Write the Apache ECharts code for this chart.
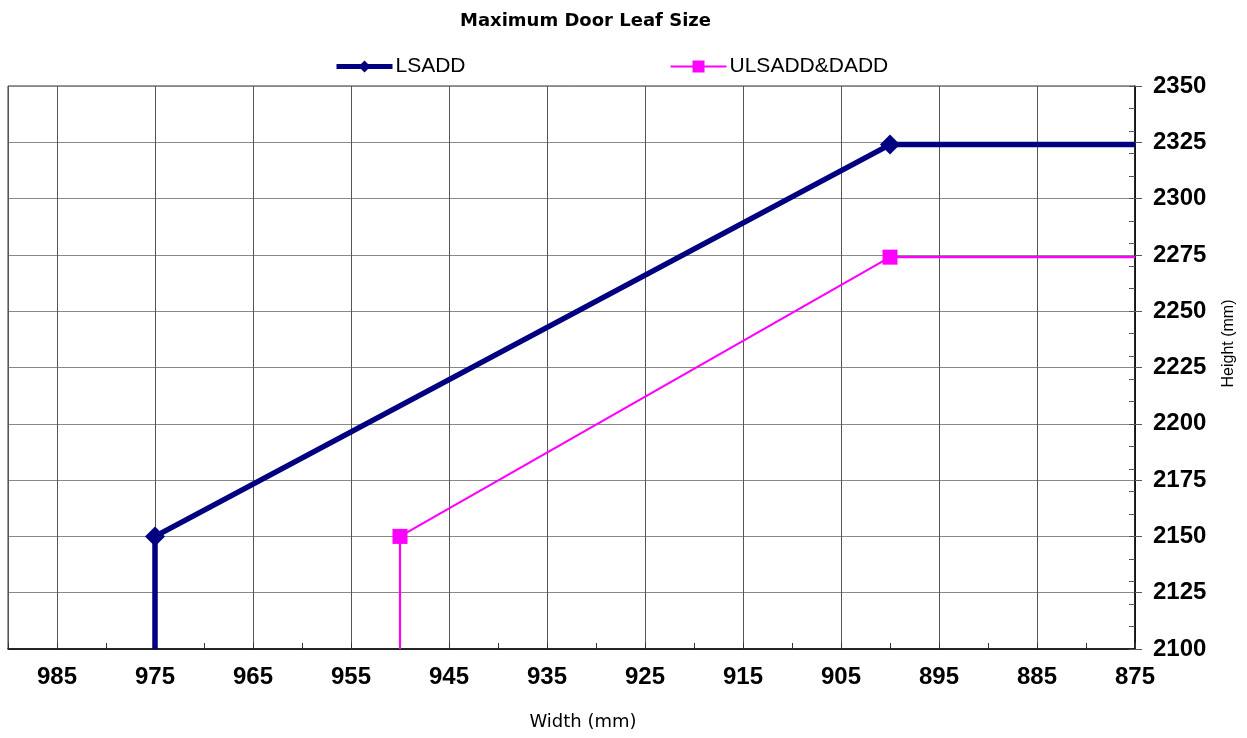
<!DOCTYPE html>
<html>
<head>
<meta charset="utf-8">
<script src="https://cdn.jsdelivr.net/npm/echarts@6/dist/echarts.min.js"></script>
<style>html,body{margin:0;padding:0;background:#fff}#c{width:1247px;height:738px}</style>
</head>
<body>
<div id="c"></div>
<script>
// ---- data ----
const titleText = 'Maximum Door Leaf Size';
const seriesNames = ['LSADD', 'ULSADD&DADD'];
const lsaddX = [975, 975, 900, 875];
const lsaddY = [2100, 2150, 2324, 2324];
const lsaddMarker = [false, true, true, false];
const ulsaddX = [950, 950, 900, 875];
const ulsaddY = [2100, 2150, 2274, 2274];
const ulsaddMarker = [false, true, true, false];
const xMajorTicks = [990, 985, 975, 965, 955, 945, 935, 925, 915, 905, 895, 885, 875];
const xLabelValues = [985, 975, 965, 955, 945, 935, 925, 915, 905, 895, 885, 875];
const xMinorTicks = [980, 970, 960, 950, 940, 930, 920, 910, 900, 890, 880];
const xName = 'Width (mm)';
const yName = 'Height (mm)';

function build(xs, ys, marks) {
  return xs.map((x, i) => ({ value: [x, ys[i]], symbol: marks[i] ? undefined : 'none' }));
}

const chart = echarts.init(document.getElementById('c'));
const xRange = { min: 875, max: 990, inverse: true };
const yRange = { min: 2100, max: 2350 };
const tickFont = { fontFamily: 'Liberation Sans', fontWeight: 'bold', fontSize: 24, color: '#000' };
chart.setOption({
  animation: false,
  backgroundColor: '#ffffff',
  title: {
    text: titleText, left: 455, top: 7,
    textStyle: { fontFamily: 'DejaVu Sans', fontWeight: 'bold', fontSize: 18, color: '#000' }
  },
  legend: {
    left: 334, top: 56, padding: 0, itemWidth: 56, itemHeight: 15, itemGap: 204,
    textStyle: { fontFamily: 'Liberation Sans', fontSize: 21, color: '#000', padding: [0, 0, 0, -2] },
    data: [
      { name: seriesNames[0], lineStyle: { width: 5 } },
      { name: seriesNames[1], lineStyle: { width: 2 } }
    ]
  },
  grid: { left: 8, right: 112, top: 86, bottom: 89, containLabel: false, show: true, borderColor: '#333', borderWidth: 1 },
  xAxis: [{
    type: 'value', ...xRange, position: 'bottom',
    name: xName, nameLocation: 'middle', nameGap: 64,
    nameTextStyle: { fontFamily: 'DejaVu Sans', fontSize: 18, color: '#000', padding: [0, 0, 0, 23] },
    axisLine: { show: true, lineStyle: { color: '#000', width: 1.5 } },
    axisTick: { show: true, inside: true, length: 6, customValues: xMajorTicks, lineStyle: { color: '#333' } },
    axisLabel: { customValues: xLabelValues, margin: 16, ...tickFont },
    splitLine: { show: true, lineStyle: { color: '#555', width: 1 } }
  }, {
    type: 'value', ...xRange, position: 'bottom',
    axisLine: { show: false },
    axisTick: { show: true, inside: true, length: 6, customValues: xMinorTicks, lineStyle: { color: '#333' } },
    axisLabel: { show: false },
    splitLine: { show: false }
  }],
  yAxis: [{
    type: 'value', ...yRange, interval: 25, position: 'right',
    name: yName, nameLocation: 'middle', nameGap: 86, nameRotate: 90,
    nameTextStyle: { fontFamily: 'Liberation Sans', fontSize: 16, color: '#000', padding: [0, 0, 0, 48] },
    axisLine: { show: true, lineStyle: { color: '#000', width: 1.5 } },
    axisTick: { show: true, inside: false, length: 7, lineStyle: { color: '#555' } },
    axisLabel: { margin: 18, formatter: v => String(v), ...tickFont },
    splitLine: { show: true, lineStyle: { color: '#888', width: 1.2 } }
  }, {
    type: 'value', ...yRange, interval: 10, position: 'right',
    axisLine: { show: false },
    axisTick: { show: true, inside: true, length: 6, lineStyle: { color: '#555' } },
    axisLabel: { show: false },
    splitLine: { show: false }
  }],
  series: [{
    name: seriesNames[0], type: 'line', xAxisIndex: 0, yAxisIndex: 0,
    data: build(lsaddX, lsaddY, lsaddMarker),
    symbol: 'diamond', symbolSize: [20, 20], showAllSymbol: true,
    lineStyle: { color: '#000080', width: 5.5 },
    itemStyle: { color: '#000080' },
    clip: true
  }, {
    name: seriesNames[1], type: 'line', xAxisIndex: 0, yAxisIndex: 0,
    data: build(ulsaddX, ulsaddY, ulsaddMarker),
    symbol: 'rect', symbolSize: 15, showAllSymbol: true,
    lineStyle: { color: '#ff00ff', width: 2.2 },
    itemStyle: { color: '#ff00ff' },
    clip: true
  }]
});
</script>
</body>
</html>
